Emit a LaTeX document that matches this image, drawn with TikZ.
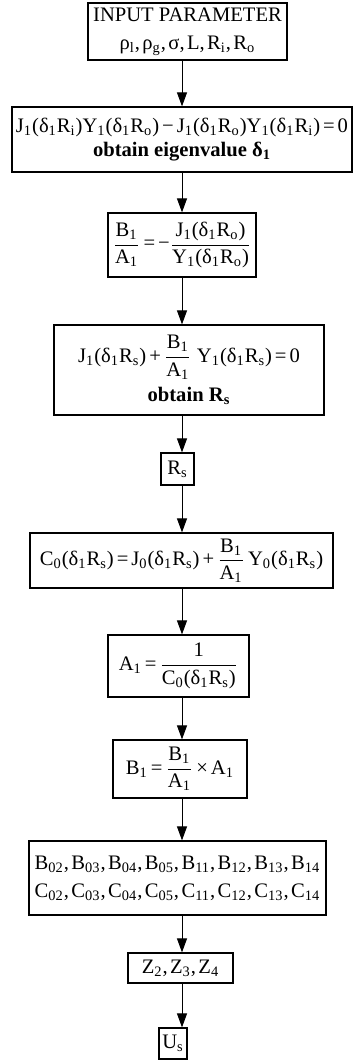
\documentclass[tikz,border=0pt]{standalone}
\usepackage{fontspec}
\setmainfont{Liberation Serif}
\usetikzlibrary{arrows.meta}
\newcommand\sbs[1]{\textsubscript{#1}}
\newcommand\fr[2]{$\displaystyle\frac{\mbox{#1}}{\mbox{#2}}$}
\newcommand\op[1]{\hspace{1.5pt}#1\hspace{1.5pt}}
\newcommand\cm{,\kern1.2pt}
\begin{document}
\begin{tikzpicture}[x=0.5pt,y=-0.5pt,
  font=\fontsize{10.3}{12.4}\selectfont,
  box/.style={draw,line width=0.6pt,inner sep=0pt,align=center},
  arr/.style={line width=0.5pt,-{Triangle[width=5pt,length=7pt]}}]
\useasboundingbox (0,0) rectangle (354,1060);
\coordinate (ax) at (182,0);
\node[box,minimum width=99.5pt,minimum height=28.5pt] (b1) at (187.5,31.5)
  {INPUT PARAMETER\\[1.5pt] ρ\sbs{l}\cm ρ\sbs{g}\cm σ\cm L\cm R\sbs{i}\cm R\sbs{o}};
\node[box,minimum width=170pt,minimum height=32.5pt] (b2) at (182,139.5)
  {J\sbs{1}(δ\sbs{1}R\sbs{i})Y\sbs{1}(δ\sbs{1}R\sbs{o})\op{−}J\sbs{1}(δ\sbs{1}R\sbs{o})Y\sbs{1}(δ\sbs{1}R\sbs{i})\op{=}0\\ \textbf{obtain eigenvalue δ\sbs{1}}};
\node[box,minimum width=74pt,minimum height=32pt] (b3) at (182,245)
  {\fr{B\sbs{1}}{A\sbs{1}}\op{=}−\fr{J\sbs{1}(δ\sbs{1}R\sbs{o})}{Y\sbs{1}(δ\sbs{1}R\sbs{o})}};
\node[box,minimum width=135pt,minimum height=45pt] (b4) at (189,370)
  {J\sbs{1}(δ\sbs{1}R\sbs{s})\op{+}\fr{B\sbs{1}}{A\sbs{1}} Y\sbs{1}(δ\sbs{1}R\sbs{s})\op{=}0\\[3pt] \textbf{obtain R\sbs{s}}};
\node[box,minimum width=16.5pt,minimum height=16pt] (b5) at (177.5,469)
  {R\sbs{s}};
\node[box,minimum width=151.5pt,minimum height=27.5pt] (b6) at (181.5,560.5)
  {C\sbs{0}(δ\sbs{1}R\sbs{s})\op{=}J\sbs{0}(δ\sbs{1}R\sbs{s})\op{+}\fr{B\sbs{1}}{A\sbs{1}}\hspace{1.5pt}Y\sbs{0}(δ\sbs{1}R\sbs{s})};
\node[box,minimum width=70.5pt,minimum height=31pt] (b7) at (178.5,666)
  {A\sbs{1}\op{=}\fr{1}{C\sbs{0}(δ\sbs{1}R\sbs{s})}};
\node[box,minimum width=67pt,minimum height=29pt] (b8) at (180,769)
  {B\sbs{1}\op{=}\fr{B\sbs{1}}{A\sbs{1}}\op{×}A\sbs{1}};
\node[box,minimum width=148.5pt,minimum height=37pt] (b9) at (177.5,878)
  {B\sbs{02}\cm B\sbs{03}\cm B\sbs{04}\cm B\sbs{05}\cm B\sbs{11}\cm B\sbs{12}\cm B\sbs{13}\cm B\sbs{14}\\[1.5pt]
   C\sbs{02}\cm C\sbs{03}\cm C\sbs{04}\cm C\sbs{05}\cm C\sbs{11}\cm C\sbs{12}\cm C\sbs{13}\cm C\sbs{14}};
\node[box,minimum width=52.5pt,minimum height=15pt] (b10) at (180.5,968)
  {Z\sbs{2}\cm Z\sbs{3}\cm Z\sbs{4}};
\node[box,minimum width=14pt,minimum height=15.5pt] (b11) at (173,1043.5)
  {U\sbs{s}};
\foreach \a/\b in {b1/b2,b2/b3,b3/b4,b4/b5,b5/b6,b6/b7,b7/b8,b8/b9,b9/b10,b10/b11}
  \draw[arr] (\a.south -| ax) -- (\b.north -| ax);
\end{tikzpicture}
\end{document}
